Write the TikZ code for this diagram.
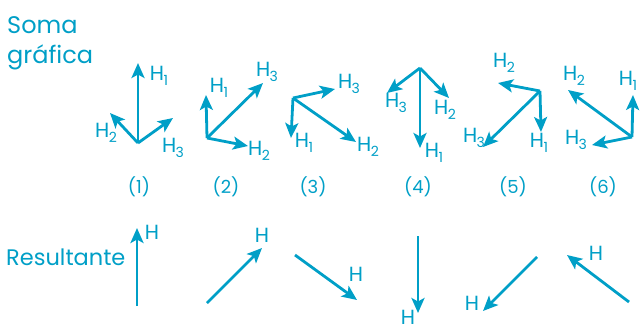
\documentclass[tikz,border=0pt]{standalone}
\usepackage{fontspec}
\setmainfont{Poppins}
\usetikzlibrary{arrows.meta}
\definecolor{cy}{RGB}{0,159,199}
\newcommand{\Hsub}[1]{H\kern-0.5pt\raisebox{-5.5pt}{\fontsize{14}{14}\selectfont #1}}
\tikzset{
  vec/.style={draw=cy, line width=2.8pt, -{Stealth[length=15pt,width=13pt,inset=3.5pt]}},
  lab/.style={text=cy, inner sep=0pt, font=\fontsize{20.5}{20.5}\selectfont},
  num/.style={text=cy, inner sep=0pt, font=\fontsize{18}{18}\selectfont},
  title/.style={text=cy, inner sep=0pt, anchor=base west, font=\fontsize{24}{24}\selectfont}
}
\begin{document}
\begin{tikzpicture}[x=1pt,y=-1pt]
\useasboundingbox (0,0) rectangle (640,327);
% titles
\node[title] (soma) at (7,33) {Soma};
\node[title] (graf) at (7,63) {gráfica};
\node[title, font=\fontsize{22.5}{22.5}\selectfont] (res) at (6,265) {Resultante};
% (1)
\coordinate (o1) at (138,143);
\coordinate (a1) at (138,63);
\coordinate (b1) at (110,113);
\coordinate (c1) at (173,118);
\draw[vec] (o1) -- (a1);
\draw[vec] (o1) -- (b1);
\draw[vec] (o1) -- (c1);
\node[lab] (l1a) at (159,76) {\Hsub{1}};
\node[lab] (l1b) at (106,133) {\Hsub{2}};
\node[lab] (l1c) at (173,148) {\Hsub{3}};
\node[num] (n1) at (139,187) {(1)};
% (2)
\coordinate (o2) at (207,138);
\coordinate (a2) at (206,95);
\coordinate (b2) at (248,146);
\coordinate (c2) at (263,83);
\draw[vec] (o2) -- (a2);
\draw[vec] (o2) -- (b2);
\draw[vec] (o2) -- (c2);
\node[lab] (l2a) at (219,88) {\Hsub{1}};
\node[lab] (l2b) at (259,151) {\Hsub{2}};
\node[lab] (l2c) at (267,72) {\Hsub{3}};
\node[num] (n2) at (226,187) {(2)};
% (3)
\coordinate (o3) at (293,98);
\coordinate (a3) at (291,138);
\coordinate (b3) at (356,142);
\coordinate (c3) at (335,89);
\draw[vec] (o3) -- (a3);
\draw[vec] (o3) -- (b3);
\draw[vec] (o3) -- (c3);
\node[lab] (l3a) at (304,143) {\Hsub{1}};
\node[lab] (l3b) at (368,147) {\Hsub{2}};
\node[lab] (l3c) at (349,84) {\Hsub{3}};
\node[num] (n3) at (313,187) {(3)};
% (4)
\coordinate (o4) at (420,68);
\coordinate (a4) at (420,148);
\coordinate (b4) at (449,98);
\coordinate (c4) at (387,93);
\draw[vec] (o4) -- (a4);
\draw[vec] (o4) -- (b4);
\draw[vec] (o4) -- (c4);
\node[lab] (l4a) at (434,153) {\Hsub{1}};
\node[lab] (l4b) at (445,110) {\Hsub{2}};
\node[lab] (l4c) at (396,103) {\Hsub{3}};
\node[num] (n4) at (418,187) {(4)};
% (5)
\coordinate (o5) at (540,91);
\coordinate (a5) at (541,132);
\coordinate (b5) at (498,83);
\coordinate (c5) at (483,147);
\draw[vec] (o5) -- (a5);
\draw[vec] (o5) -- (b5);
\draw[vec] (o5) -- (c5);
\node[lab] (l5a) at (539,143) {\Hsub{1}};
\node[lab] (l5b) at (504,63) {\Hsub{2}};
\node[lab] (l5c) at (474,138) {\Hsub{3}};
\node[num] (n5) at (513,187) {(5)};
% (6)
\coordinate (o6) at (632,137);
\coordinate (a6) at (633,95);
\coordinate (b6) at (568,90);
\coordinate (c6) at (592,145);
\draw[vec] (o6) -- (a6);
\draw[vec] (o6) -- (b6);
\draw[vec] (o6) -- (c6);
\node[lab] (l6a) at (628,81) {\Hsub{1}};
\node[lab] (l6b) at (574,76) {\Hsub{2}};
\node[lab] (l6c) at (576,140) {\Hsub{3}};
\node[num] (n6) at (603,187) {(6)};
% resultants
\coordinate (r1s) at (137,306); \coordinate (r1e) at (137,228);
\coordinate (r2s) at (207,303); \coordinate (r2e) at (262,248);
\coordinate (r3s) at (295,255); \coordinate (r3e) at (357,300);
\coordinate (r4s) at (418,236); \coordinate (r4e) at (418,313);
\coordinate (r5s) at (537,257); \coordinate (r5e) at (483,311);
\coordinate (r6s) at (629,302); \coordinate (r6e) at (567,255);
\draw[vec] (r1s) -- (r1e);
\draw[vec] (r2s) -- (r2e);
\draw[vec] (r3s) -- (r3e);
\draw[vec] (r4s) -- (r4e);
\draw[vec] (r5s) -- (r5e);
\draw[vec] (r6s) -- (r6e);
\node[lab] (h1) at (152,232) {H};
\node[lab] (h2) at (262,235) {H};
\node[lab] (h3) at (356,274) {H};
\node[lab] (h4) at (408,317) {H};
\node[lab] (h5) at (472,303) {H};
\node[lab] (h6) at (596,253) {H};
\end{tikzpicture}
\end{document}
